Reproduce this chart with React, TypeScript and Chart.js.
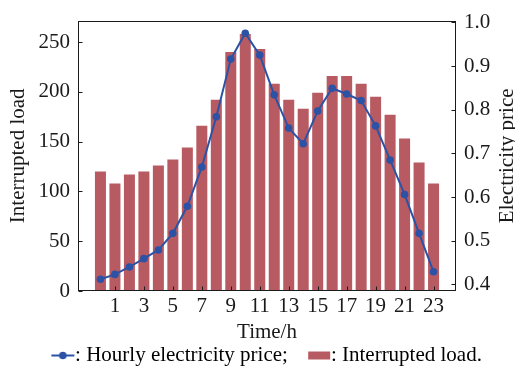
import React, { useEffect, useRef } from "react";
import { Chart, registerables } from "chart.js";

Chart.register(...registerables);

// ---- data ----
const hours = [0, 1, 2, 3, 4, 5, 6, 7, 8, 9, 10, 11, 12, 13, 14, 15, 16, 17, 18, 19, 20, 21, 22, 23];
const interruptedLoad = [120, 108, 117, 120, 126, 132, 144, 166, 192, 240, 258, 243, 208, 192, 183, 199, 216, 216, 208, 195, 177, 153, 129, 108];
const hourlyPrice = [0.412, 0.423, 0.44, 0.459, 0.479, 0.517, 0.579, 0.669, 0.784, 0.916, 0.975, 0.925, 0.834, 0.758, 0.722, 0.797, 0.849, 0.836, 0.821, 0.763, 0.685, 0.606, 0.517, 0.429];
const xTickValues = [1, 3, 5, 7, 9, 11, 13, 15, 17, 19, 21, 23];
const loadTickValues = [0, 50, 100, 150, 200, 250];
const priceTickValues = [0.4, 0.5, 0.6, 0.7, 0.8, 0.9, 1.0];

const xTitle = "Time/h";
const leftTitle = "Interrupted load";
const rightTitle = "Electricity price";
const priceLegend = ": Hourly electricity price;";
const loadLegend = ": Interrupted load.";

const BAR_COLOR = "#B85A62";
const LINE_COLOR = "#2B52A4";
const INK = "#1a1a1a";
const FONT_FAMILY = "'Liberation Serif', 'Times New Roman', serif";
const FONT_SIZE = 21;

function makeLineMarker(): HTMLCanvasElement {
  const c = document.createElement("canvas");
  c.width = 53;
  c.height = 11;
  const g = c.getContext("2d")!;
  g.strokeStyle = LINE_COLOR;
  g.lineWidth = 2;
  g.beginPath();
  g.moveTo(c.width - 24, 5.5);
  g.lineTo(c.width - 1, 5.5);
  g.stroke();
  g.fillStyle = LINE_COLOR;
  g.beginPath();
  g.arc(c.width - 12.5, 5.5, 3.8, 0, Math.PI * 2);
  g.fill();
  return c;
}

function makeBarMarker(): HTMLCanvasElement {
  const c = document.createElement("canvas");
  c.width = 53;
  c.height = 9;
  const g = c.getContext("2d")!;
  g.fillStyle = BAR_COLOR;
  g.fillRect(c.width - 23, 0.5, 22, 8);
  return c;
}

const framePlugin = {
  id: "frameAndTicks",
  afterDatasetsDraw(chart: any) {
    const { ctx, chartArea: a, scales } = chart;
    const len = 4;
    ctx.save();
    ctx.strokeStyle = INK;
    ctx.lineWidth = 1;
    const L = Math.round(a.left) + 0.5;
    const R = Math.round(a.right) - 0.5;
    const T = Math.round(a.top) + 0.5;
    const B = Math.round(a.bottom) - 0.5;
    ctx.strokeRect(L, T, R - L, B - T);
    ctx.beginPath();
    scales.y.ticks.forEach((t: any) => {
      const py = Math.round(scales.y.getPixelForValue(t.value)) + 0.5;
      ctx.moveTo(L, py);
      ctx.lineTo(L + len, py);
    });
    scales.y1.ticks.forEach((t: any) => {
      const py = Math.round(scales.y1.getPixelForValue(t.value)) + 0.5;
      ctx.moveTo(R, py);
      ctx.lineTo(R - len, py);
    });
    scales.x.ticks.forEach((t: any) => {
      const px = Math.round(scales.x.getPixelForValue(t.value)) + 0.5;
      ctx.moveTo(px, B);
      ctx.lineTo(px, B - len);
    });
    ctx.stroke();
    // right axis title, reading bottom-to-top
    ctx.fillStyle = INK;
    ctx.font = `${FONT_SIZE}px ${FONT_FAMILY}`;
    ctx.textAlign = "center";
    ctx.textBaseline = "middle";
    ctx.translate(scales.y1.right - 8, (a.top + a.bottom) / 2);
    ctx.rotate(-Math.PI / 2);
    ctx.fillText(rightTitle, 0, 0);
    ctx.restore();
  },
};

export default function App() {
  const canvasRef = useRef<HTMLCanvasElement | null>(null);

  useEffect(() => {
    if (!canvasRef.current) return;
    const font = { family: FONT_FAMILY, size: FONT_SIZE };
    const lineMarker = makeLineMarker();
    const barMarker = makeBarMarker();

    const chart = new Chart(canvasRef.current, {
      type: "bar",
      data: {
        datasets: [
          {
            type: "line",
            label: "Hourly electricity price",
            data: hours.map((h, i) => ({ x: h, y: hourlyPrice[i] })),
            borderColor: LINE_COLOR,
            backgroundColor: LINE_COLOR,
            borderWidth: 2,
            pointRadius: 3.8,
            pointBorderWidth: 0,
            pointBackgroundColor: LINE_COLOR,
            tension: 0,
            xAxisID: "x",
            yAxisID: "y1",
            order: 1,
          } as any,
          {
            type: "bar",
            label: "Interrupted load",
            data: hours.map((h, i) => ({ x: h, y: interruptedLoad[i] })),
            backgroundColor: BAR_COLOR,
            borderWidth: 0,
            barPercentage: 0.76,
            categoryPercentage: 1,
            xAxisID: "x",
            yAxisID: "y",
            order: 2,
          } as any,
        ],
      },
      options: {
        animation: false,
        responsive: false,
        layout: { padding: { top: 16.5, left: 0, right: 0, bottom: 0 } },
        plugins: {
          tooltip: { enabled: false },
          legend: {
            display: true,
            position: "bottom",
            align: "center",
            maxHeight: 26,
            labels: {
              usePointStyle: true,
              pointStyleWidth: 31.5,
              padding: 1,
              color: INK,
              font,
              generateLabels: () => [
                {
                  text: priceLegend,
                  pointStyle: lineMarker,
                  fillStyle: LINE_COLOR,
                  strokeStyle: LINE_COLOR,
                  lineWidth: 0,
                  hidden: false,
                  datasetIndex: 0,
                },
                {
                  text: loadLegend,
                  pointStyle: barMarker,
                  fillStyle: BAR_COLOR,
                  strokeStyle: BAR_COLOR,
                  lineWidth: 0,
                  hidden: false,
                  datasetIndex: 1,
                },
              ] as any,
            },
          } as any,
        },
        scales: {
          x: {
            type: "linear",
            position: "bottom",
            offset: false,
            min: -1.55,
            max: 24.55,
            afterBuildTicks: (s: any) => {
              s.ticks = xTickValues.map((v) => ({ value: v }));
            },
            afterFit: (s: any) => {
              s.height = 53;
            },
            grid: { display: false, drawTicks: false, offset: false },
            border: { display: false },
            ticks: { autoSkip: false, maxRotation: 0, padding: 3, color: INK, font },
            title: { display: true, text: xTitle, color: INK, font, padding: { top: 0, bottom: -1 } },
          },
          y: {
            type: "linear",
            position: "left",
            min: 0,
            max: 271.5,
            afterBuildTicks: (s: any) => {
              s.ticks = loadTickValues.map((v) => ({ value: v }));
            },
            afterFit: (s: any) => {
              s.width = 78;
            },
            grid: { display: false, drawTicks: false },
            border: { display: false },
            ticks: { padding: 8, color: INK, font },
            title: { display: true, text: leftTitle, color: INK, font, padding: { top: 6, bottom: 0 } },
          },
          y1: {
            type: "linear",
            position: "right",
            min: 0.385,
            max: 1.004,
            afterBuildTicks: (s: any) => {
              s.ticks = priceTickValues.map((v) => ({ value: v }));
            },
            afterFit: (s: any) => {
              s.width = 59;
            },
            grid: { display: false, drawTicks: false },
            border: { display: false },
            ticks: {
              padding: 8,
              color: INK,
              font,
              callback: (v: any) => Number(v).toFixed(1),
            },
          },
        },
      } as any,
      plugins: [framePlugin],
    });
    return () => chart.destroy();
  }, []);

  return (
    <div style={{ position: "fixed", left: 0, top: 0, width: 515, height: 370, background: "#fff" }}>
      <canvas ref={canvasRef} width={515} height={370} style={{ display: "block" }} />
    </div>
  );
}
